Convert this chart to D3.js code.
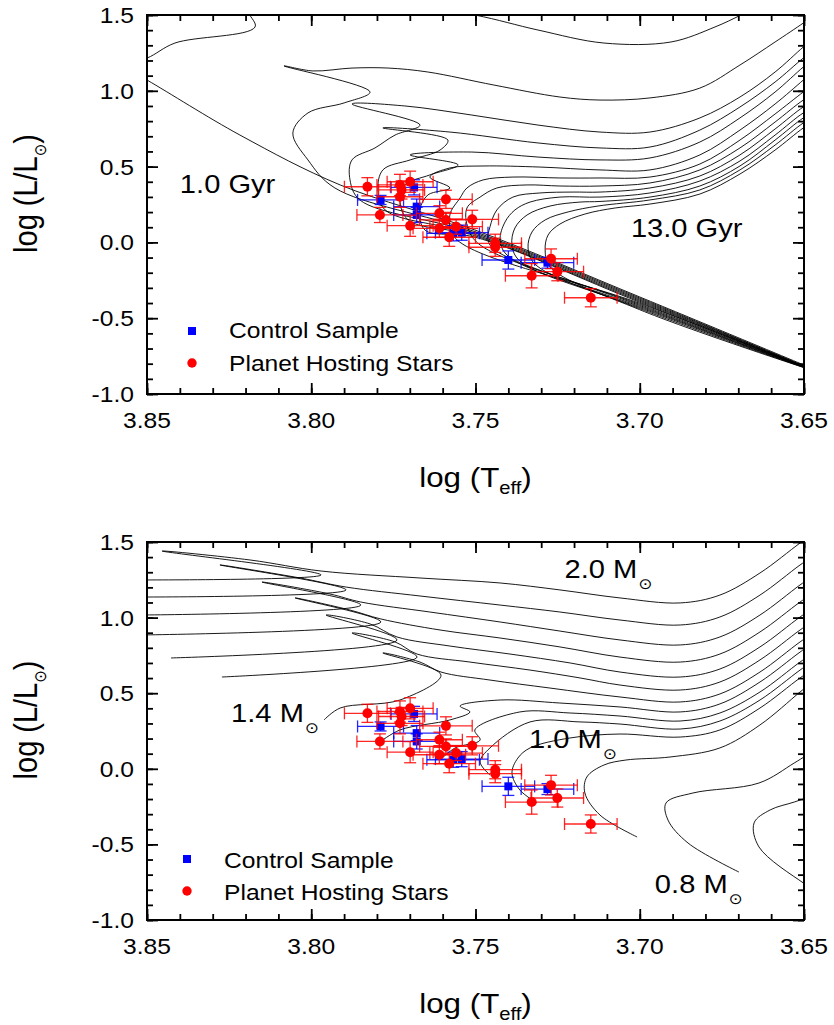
<!DOCTYPE html>
<html>
<head>
<meta charset="utf-8">
<script src="https://cdn.jsdelivr.net/npm/d3@7"></script>
<style>
  body { margin: 0; background: #fff; }
  svg text { font-family: "Liberation Sans", Arial, sans-serif; fill: #000; }
</style>
</head>
<body>
<svg id="chart" width="834" height="1025"></svg>
<script>
// planet hosting stars
const hostTeff = [3.7829, 3.7730, 3.7699, 3.7725, 3.7730, 3.7791, 3.7699, 3.7590, 3.7610, 3.7590,
                  3.7610, 3.7559, 3.7510, 3.7580, 3.7440, 3.7440, 3.7270, 3.7251, 3.7329, 3.7149];
const hostLum = [0.367, 0.379, 0.400, 0.346, 0.301, 0.181, 0.110, 0.284, 0.192, 0.148,
                 0.093, 0.104, 0.152, 0.034, -0.006, -0.032, -0.108, -0.193, -0.220, -0.365];
const hostTeffErr = [0.007, 0.007, 0.007, 0.007, 0.007, 0.007, 0.007, 0.008, 0.007, 0.008,
                     0.008, 0.008, 0.008, 0.008, 0.008, 0.008, 0.008, 0.008, 0.008, 0.008];
const hostLumErr = [0.06, 0.07, 0.07, 0.06, 0.07, 0.05, 0.07, 0.06, 0.05, 0.05,
                    0.06, 0.05, 0.06, 0.06, 0.06, 0.06, 0.065, 0.06, 0.08, 0.06];

// control sample
const ctrlTeff = [3.7789, 3.7687, 3.7679, 3.7679, 3.7568, 3.7542, 3.7400, 3.7281];
const ctrlLum = [0.280, 0.363, 0.236, 0.181, 0.060, 0.064, -0.116, -0.134];
const ctrlTeffErr = [0.007, 0.007, 0.007, 0.007, 0.008, 0.008, 0.008, 0.008];
const ctrlLumErr = [0.03, 0.05, 0.05, 0.05, 0.05, 0.05, 0.06, 0.036];

// isochrones, 1 to 13 Gyr  [log Teff, log L]
const iso01 = [[3.65,-0.809],[3.70,-0.360],[3.7502,0.082],[3.7912,0.379],[3.8217,0.708],[3.85,1.071],[3.8582,1.170],[3.85,1.216],[3.8415,1.315],[3.8171,1.421],[3.8189,1.533],[3.7800,1.600],[3.7502,1.500],[3.7310,1.401],[3.7109,1.315],[3.6905,1.322],[3.6771,1.421],[3.6692,1.500],[3.6634,1.566]];
const iso02 = [[3.65,-0.815],[3.70,-0.367],[3.7502,0.071],[3.7928,0.359],[3.8010,0.544],[3.8056,0.722],[3.8010,0.854],[3.7900,0.920],[3.7821,0.992],[3.8083,1.164],[3.7995,1.131],[3.7876,1.150],[3.7766,1.150],[3.7645,1.124],[3.7444,1.038],[3.7243,0.959],[3.7121,0.939],[3.6969,0.953],[3.6817,1.018],[3.6695,1.170],[3.6588,1.322],[3.6502,1.447],[3.6467,1.500]];
const iso03 = [[3.65,-0.815],[3.70,-0.374],[3.7502,0.062],[3.7852,0.280],[3.7882,0.412],[3.7876,0.544],[3.7806,0.623],[3.7745,0.708],[3.7669,0.774],[3.7876,0.913],[3.7715,0.900],[3.7511,0.840],[3.7310,0.774],[3.7121,0.728],[3.6969,0.728],[3.6817,0.821],[3.6695,0.959],[3.6588,1.124],[3.6502,1.289],[3.6467,1.350]];
const iso04 = [[3.65,-0.818],[3.70,-0.381],[3.7502,0.053],[3.7775,0.214],[3.7797,0.346],[3.7782,0.478],[3.7699,0.544],[3.7608,0.609],[3.7584,0.675],[3.7782,0.755],[3.7578,0.728],[3.7310,0.656],[3.7121,0.623],[3.6969,0.629],[3.6817,0.741],[3.6695,0.893],[3.6588,1.058],[3.6502,1.216],[3.6467,1.270]];
const iso05 = [[3.65,-0.818],[3.70,-0.388],[3.7502,0.044],[3.7705,0.148],[3.7730,0.280],[3.7715,0.379],[3.7639,0.445],[3.7553,0.511],[3.7699,0.577],[3.7511,0.596],[3.7310,0.563],[3.7121,0.544],[3.6969,0.557],[3.6817,0.662],[3.6695,0.821],[3.6588,0.992],[3.6502,1.157],[3.6467,1.216]];
const iso06 = [[3.65,-0.820],[3.70,-0.395],[3.7502,0.035],[3.7654,0.082],[3.7669,0.214],[3.7645,0.313],[3.7578,0.359],[3.7639,0.431],[3.7578,0.491],[3.7477,0.504],[3.7304,0.497],[3.7121,0.478],[3.6969,0.478],[3.6817,0.577],[3.6695,0.741],[3.6588,0.913],[3.6502,1.071],[3.6467,1.137]];
const iso07 = [[3.65,-0.820],[3.70,-0.402],[3.7562,0.029],[3.7578,0.181],[3.7547,0.293],[3.7526,0.359],[3.7477,0.412],[3.7386,0.431],[3.7243,0.425],[3.7121,0.425],[3.6969,0.431],[3.6817,0.517],[3.6695,0.675],[3.6588,0.847],[3.6502,0.992],[3.6467,1.045]];
const iso08 = [[3.65,-0.821],[3.70,-0.409],[3.7486,-0.017],[3.7523,0.095],[3.7526,0.227],[3.7486,0.299],[3.7435,0.359],[3.7343,0.379],[3.7243,0.372],[3.7121,0.372],[3.6969,0.392],[3.6817,0.478],[3.6695,0.623],[3.6588,0.794],[3.6502,0.939],[3.6467,0.980]];
const iso09 = [[3.65,-0.822],[3.70,-0.416],[3.7441,-0.050],[3.7462,0.016],[3.7456,0.102],[3.7435,0.214],[3.7386,0.299],[3.7304,0.326],[3.7203,0.332],[3.7121,0.332],[3.6969,0.359],[3.6817,0.438],[3.6695,0.577],[3.6588,0.748],[3.6502,0.893],[3.6467,0.930]];
const iso10 = [[3.65,-0.823],[3.70,-0.423],[3.7401,-0.090],[3.7425,0.016],[3.7410,0.135],[3.7380,0.214],[3.7334,0.266],[3.7243,0.299],[3.7121,0.299],[3.6969,0.326],[3.6817,0.405],[3.6695,0.537],[3.6588,0.708],[3.6502,0.854],[3.6467,0.890]];
const iso11 = [[3.65,-0.824],[3.70,-0.430],[3.7365,-0.123],[3.7389,-0.017],[3.7380,0.095],[3.7343,0.181],[3.7273,0.240],[3.7182,0.266],[3.7121,0.270],[3.6969,0.299],[3.6817,0.372],[3.6695,0.504],[3.6588,0.675],[3.6502,0.821],[3.6467,0.860]];
const iso12 = [[3.65,-0.825],[3.70,-0.437],[3.7319,-0.143],[3.7340,-0.037],[3.7328,0.069],[3.7288,0.148],[3.7218,0.201],[3.7127,0.240],[3.6969,0.280],[3.6817,0.346],[3.6695,0.478],[3.6588,0.642],[3.6502,0.788],[3.6467,0.830]];
const iso13 = [[3.65,-0.826],[3.70,-0.444],[3.7273,-0.162],[3.7288,-0.050],[3.7279,0.049],[3.7243,0.121],[3.7167,0.187],[3.7075,0.227],[3.6969,0.253],[3.6817,0.319],[3.6695,0.451],[3.6588,0.609],[3.6502,0.755],[3.6467,0.800]];

// evolutionary tracks, 2.0 to 0.7 Msun  [log Teff, log L]
const m20 = [[3.8521,1.249],[3.7970,1.282],[3.8454,1.440],[3.8186,1.381],[3.7970,1.308],[3.7669,1.262],[3.7425,1.229],[3.7243,1.183],[3.7060,1.130],[3.6877,1.097],[3.6756,1.149],[3.6634,1.295],[3.6512,1.493],[3.6467,1.560]];
const m19 = [[3.8521,1.136],[3.7894,1.183],[3.8278,1.348],[3.8034,1.262],[3.7894,1.202],[3.7669,1.143],[3.7425,1.083],[3.7243,1.037],[3.7060,0.984],[3.6877,0.951],[3.6756,1.004],[3.6634,1.149],[3.6512,1.348],[3.6467,1.414]];
const m18 = [[3.8521,1.017],[3.7849,1.083],[3.8150,1.235],[3.7943,1.156],[3.7849,1.103],[3.7639,1.037],[3.7425,0.971],[3.7243,0.911],[3.7060,0.852],[3.6877,0.819],[3.6756,0.872],[3.6634,1.017],[3.6512,1.216],[3.6467,1.283]];
const m17 = [[3.8521,0.885],[3.7788,0.971],[3.8049,1.130],[3.7882,1.050],[3.7788,0.991],[3.7608,0.918],[3.7425,0.865],[3.7243,0.806],[3.7060,0.739],[3.6877,0.706],[3.6756,0.759],[3.6634,0.905],[3.6512,1.103],[3.6467,1.169]];
const m16 = [[3.8427,0.733],[3.7739,0.852],[3.7955,1.017],[3.7821,0.958],[3.7739,0.872],[3.7578,0.812],[3.7395,0.759],[3.7212,0.700],[3.7060,0.640],[3.6877,0.607],[3.6756,0.660],[3.6634,0.806],[3.6512,1.004],[3.6467,1.070]];
const m15 = [[3.8272,0.607],[3.7678,0.739],[3.7876,0.898],[3.7745,0.839],[3.7678,0.759],[3.7517,0.706],[3.7334,0.653],[3.7182,0.601],[3.7060,0.554],[3.6877,0.521],[3.6756,0.574],[3.6634,0.720],[3.6512,0.918],[3.6467,0.984]];
const m14 = [[3.7961,0.323],[3.7912,0.402],[3.7730,0.455],[3.7605,0.620],[3.7782,0.766],[3.7669,0.706],[3.7605,0.640],[3.7456,0.587],[3.7273,0.534],[3.7060,0.475],[3.6877,0.442],[3.6756,0.495],[3.6634,0.640],[3.6512,0.839],[3.6467,0.905]];
const m13 = [[3.7791,0.177],[3.7730,0.257],[3.7578,0.323],[3.7517,0.376],[3.7547,0.415],[3.7425,0.455],[3.7243,0.435],[3.7060,0.409],[3.6877,0.376],[3.6756,0.429],[3.6634,0.574],[3.6512,0.772],[3.6467,0.839]];
const m12 = [[3.7608,0.058],[3.7562,0.138],[3.7486,0.190],[3.7502,0.257],[3.7365,0.376],[3.7212,0.369],[3.7060,0.349],[3.6877,0.316],[3.6756,0.369],[3.6634,0.508],[3.6512,0.706],[3.6467,0.772]];
const m11 = [[3.7456,-0.041],[3.7486,0.045],[3.7456,0.138],[3.7334,0.310],[3.7182,0.310],[3.7060,0.296],[3.6877,0.263],[3.6756,0.316],[3.6634,0.455],[3.6512,0.653],[3.6467,0.720]];
const m10 = [[3.7313,-0.226],[3.7365,-0.140],[3.7389,-0.028],[3.7371,0.071],[3.7334,0.138],[3.7212,0.204],[3.7060,0.230],[3.6877,0.210],[3.6756,0.257],[3.6634,0.402],[3.6512,0.601],[3.6467,0.667]];
const m09 = [[3.7008,-0.451],[3.7121,-0.306],[3.7167,-0.160],[3.7161,-0.054],[3.7109,0.025],[3.7042,0.058],[3.6908,0.078],[3.6756,0.138],[3.6634,0.290],[3.6512,0.508],[3.6467,0.587]];
const m08 = [[3.6698,-0.683],[3.6853,-0.491],[3.6914,-0.339],[3.6920,-0.226],[3.6838,-0.160],[3.6637,-0.094],[3.6530,0.038],[3.6467,0.124]];
const m07 = [[3.6467,-0.802],[3.6502,-0.755],[3.6637,-0.517],[3.6652,-0.358],[3.6603,-0.272],[3.6530,-0.220],[3.6467,-0.173]];

const isochrones = [iso01, iso02, iso03, iso04, iso05, iso06, iso07, iso08, iso09, iso10, iso11, iso12, iso13];
const tracks = [m20, m19, m18, m17, m16, m15, m14, m13, m12, m11, m10, m09, m08, m07];

const xTicks = [3.85, 3.80, 3.75, 3.70, 3.65];
const yTicks = [-1.0, -0.5, 0.0, 0.5, 1.0, 1.5];

const svg = d3.select('#chart');
const x = d3.scaleLinear().domain([3.85, 3.65]).range([147, 804]);
const SX = 1.12; // the figure's text is a little stretched sideways

function label(g, px, py, str, size, anchor) {
  return g.append('text')
    .attr('transform', `translate(${px},${py}) scale(${SX},1)`)
    .attr('text-anchor', anchor || 'start')
    .style('font-size', size + 'px')
    .text(str);
}

// text with a solar-symbol subscript, e.g. "2.0 M" + ⊙
function solarLabel(g, px, py, str) {
  const t = label(g, px, py, str, 26);
  t.append('tspan').attr('dy', 11).attr('dx', 1)
    .style('font-family', '"DejaVu Sans"').style('font-size', '15px').text('\u2299');
}

function drawPanel(y0, y1, curves, idx) {
  const y = d3.scaleLinear().domain([-1, 1.5]).range([y1, y0]);
  const g = svg.append('g');
  const [x0, x1] = x.range();

  g.append('clipPath').attr('id', 'clip' + idx)
    .append('rect').attr('x', x0).attr('y', y0).attr('width', x1 - x0).attr('height', y1 - y0);

  const line = d3.line().x(d => x(d[0])).y(d => y(d[1])).curve(d3.curveCatmullRom.alpha(0.5));
  g.append('g').attr('clip-path', `url(#clip${idx})`)
    .selectAll('path').data(curves).join('path')
    .attr('d', line).attr('fill', 'none').attr('stroke', '#000').attr('stroke-width', 0.9);

  // ticks, all inward, on four sides
  const tickStyle = sel => {
    sel.select('.domain').remove();
    sel.selectAll('line').attr('stroke', '#000').attr('stroke-width', 1.8);
  };
  const defs = [
    [d3.axisBottom(x), `translate(0,${y1})`, xTicks, x.ticks(20)],
    [d3.axisTop(x), `translate(0,${y0})`, xTicks, x.ticks(20)],
    [d3.axisLeft(y), `translate(${x0},0)`, yTicks, y.ticks(25)],
    [d3.axisRight(y), `translate(${x1},0)`, yTicks, y.ticks(25)]
  ];
  defs.forEach(([ax, tr, major, minor]) => {
    g.append('g').attr('transform', tr)
      .call(ax.tickValues(minor).tickSizeInner(-6).tickSizeOuter(0).tickFormat(''))
      .call(tickStyle);
    g.append('g').attr('transform', tr)
      .call(ax.tickValues(major).tickSizeInner(-11).tickSizeOuter(0).tickFormat(''))
      .call(tickStyle);
  });

  g.append('rect').attr('x', x0).attr('y', y0).attr('width', x1 - x0).attr('height', y1 - y0)
    .attr('fill', 'none').attr('stroke', '#000').attr('stroke-width', 2);

  xTicks.forEach(v => label(g, x(v), y1 + 34, v.toFixed(2), 22, 'middle'));
  yTicks.forEach(v => label(g, x0 - 13, y(v) + 8, v.toFixed(1), 22, 'end'));

  // axis titles
  const xt = label(g, (x0 + x1) / 2, y1 + 93, 'log (T', 28, 'middle');
  xt.append('tspan').attr('dy', 7).style('font-size', '18px').text('eff');
  xt.append('tspan').attr('dy', -7).text(')');

  const yt = g.append('text')
    .attr('transform', `translate(37,${(y0 + y1) / 2 - 11}) scale(${SX},1) rotate(-90)`)
    .attr('text-anchor', 'middle').style('font-size', '29px').text('log (L/L');
  yt.append('tspan').attr('dy', 8).style('font-family', '"DejaVu Sans"').style('font-size', '15px').text('\u2299');
  yt.append('tspan').attr('dy', -8).text(')');

  // error bars and markers
  const cap = 6;
  function errorBars(tArr, lArr, teArr, leArr, color) {
    const eg = g.append('g').attr('stroke', color).attr('stroke-width', 1.3).attr('stroke-opacity', 0.85);
    tArr.forEach((t, i) => {
      const l = lArr[i], te = teArr[i], le = leArr[i];
      const xa = x(t + te), xb = x(t - te), yc = y(l), ya = y(l + le), yb = y(l - le), xc = x(t);
      eg.append('line').attr('x1', xa).attr('x2', xb).attr('y1', yc).attr('y2', yc);
      eg.append('line').attr('x1', xa).attr('x2', xa).attr('y1', yc - cap).attr('y2', yc + cap);
      eg.append('line').attr('x1', xb).attr('x2', xb).attr('y1', yc - cap).attr('y2', yc + cap);
      eg.append('line').attr('x1', xc).attr('x2', xc).attr('y1', ya).attr('y2', yb);
      eg.append('line').attr('x1', xc - cap).attr('x2', xc + cap).attr('y1', ya).attr('y2', ya);
      eg.append('line').attr('x1', xc - cap).attr('x2', xc + cap).attr('y1', yb).attr('y2', yb);
    });
  }
  errorBars(ctrlTeff, ctrlLum, ctrlTeffErr, ctrlLumErr, '#0000ff');
  g.append('g').selectAll('rect').data(ctrlTeff).join('rect')
    .attr('x', (d) => x(d) - 4).attr('y', (d, i) => y(ctrlLum[i]) - 4)
    .attr('width', 8).attr('height', 8).attr('fill', '#0000ff');
  errorBars(hostTeff, hostLum, hostTeffErr, hostLumErr, '#ff0000');
  g.append('g').selectAll('circle').data(hostTeff).join('circle')
    .attr('cx', d => x(d)).attr('cy', (d, i) => y(hostLum[i])).attr('r', 5).attr('fill', '#ff0000');

  return { g, y };
}

// upper panel: isochrones
const upper = drawPanel(15, 394, isochrones, 0);
label(upper.g, x(3.8400), upper.y(0.326), '1.0 Gyr', 26);
label(upper.g, x(3.7027), upper.y(0.036), '13.0 Gyr', 26);
upper.g.append('rect').attr('x', 188).attr('y', 327).attr('width', 8).attr('height', 8).attr('fill', '#0000ff');
upper.g.append('circle').attr('cx', 192).attr('cy', 363).attr('r', 4.7).attr('fill', '#ff0000');
label(upper.g, 229, 338, 'Control Sample', 22);
label(upper.g, 229, 371, 'Planet Hosting Stars', 22);

// lower panel: tracks
const lower = drawPanel(542, 920, tracks, 1);
solarLabel(lower.g, x(3.7229), lower.y(1.262), '2.0 M');
solarLabel(lower.g, x(3.8244), lower.y(0.310), '1.4 M');
solarLabel(lower.g, x(3.7337), lower.y(0.138), '1.0 M');
solarLabel(lower.g, x(3.6954), lower.y(-0.821), '0.8 M');
lower.g.append('rect').attr('x', 183).attr('y', 855).attr('width', 8).attr('height', 8).attr('fill', '#0000ff');
lower.g.append('circle').attr('cx', 187).attr('cy', 891).attr('r', 4.7).attr('fill', '#ff0000');
label(lower.g, 224, 868, 'Control Sample', 22);
label(lower.g, 224, 900, 'Planet Hosting Stars', 22);
</script>
</body>
</html>
